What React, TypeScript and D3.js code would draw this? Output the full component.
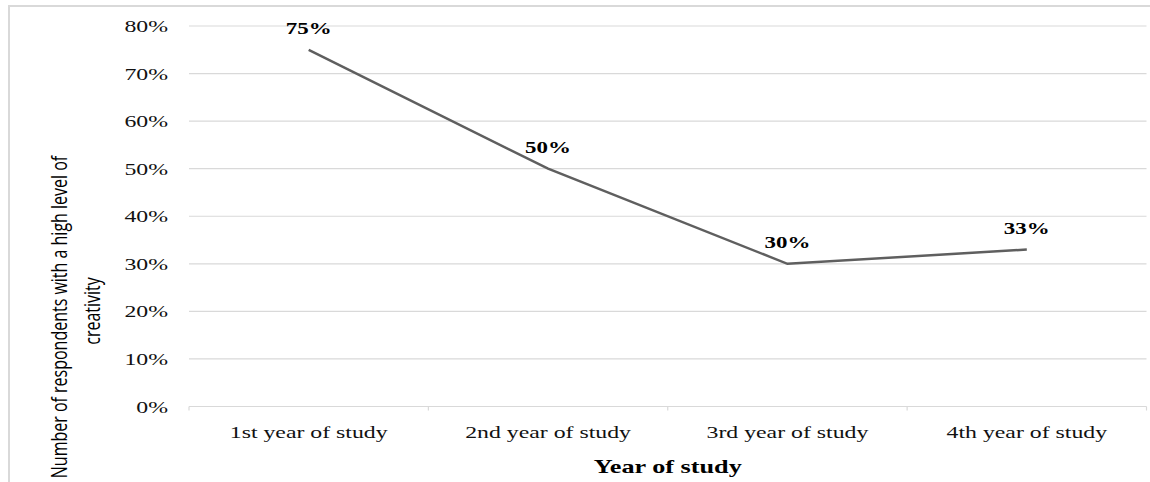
import React from "react";
import * as d3 from "d3";

const categories = ["1st year of study", "2nd year of study", "3rd year of study", "4th year of study"];
const values = [0.75, 0.5, 0.3, 0.33];
const yTicks = [0, 0.1, 0.2, 0.3, 0.4, 0.5, 0.6, 0.7, 0.8];
const xTitle = "Year of study";
const yTitleLines = ["Number of respondents with a high level of", "creativity"];

const W = 1150;
const H = 482;
const SX = 1.4; // horizontal stretch of the original rendering
const serif = "'Liberation Serif', 'Times New Roman', serif";
const sans = "'Open Sans', 'Noto Sans', sans-serif";

export default function App() {
  const x = d3.scaleBand<string>().domain(categories).range([189, 1146.5]);
  const y = d3.scaleLinear().domain([0, 0.8]).range([406.5, 26]);
  const fmt = d3.format(".0%");
  const pts = categories.map((c, i) => [x(c)! + x.bandwidth() / 2, y(values[i])] as [number, number]);
  const line = d3.line()(pts) || "";
  const bounds = [...categories.map((c) => x(c)!), x.range()[1]];

  return (
    <svg
      width={W}
      height={H}
      style={{ position: "absolute", left: 0, top: 0, background: "#fff" }}
    >
      {/* chart border */}
      <line x1={9} x2={9} y1={5} y2={H} stroke="#d9d9d9" strokeWidth={2} />
      <line x1={8} x2={W} y1={6} y2={6} stroke="#d9d9d9" strokeWidth={2} />

      {/* gridlines */}
      {yTicks.map((t) => (
        <line key={t} x1={x.range()[0]} x2={x.range()[1]} y1={y(t)} y2={y(t)} stroke="#d9d9d9" strokeWidth={1.2} />
      ))}
      {/* category ticks */}
      {bounds.map((b, i) => (
        <line key={i} x1={b} x2={b} y1={y(0)} y2={y(0) + 4} stroke="#d9d9d9" strokeWidth={1.2} />
      ))}

      {/* y tick labels */}
      {yTicks.map((t) => (
        <text
          key={t}
          transform={`translate(168,${y(t) + 6}) scale(${SX},1)`}
          textAnchor="end"
          fontFamily={serif}
          fontSize={17}
          fill="#111"
        >
          {fmt(t)}
        </text>
      ))}

      {/* x tick labels */}
      {categories.map((c) => (
        <text
          key={c}
          transform={`translate(${x(c)! + x.bandwidth() / 2},438) scale(${SX},1)`}
          textAnchor="middle"
          fontFamily={serif}
          fontSize={17}
          fill="#111"
        >
          {c}
        </text>
      ))}

      {/* x title */}
      <text
        transform={`translate(${(x.range()[0] + x.range()[1]) / 2},473) scale(${SX - 0.02},1)`}
        textAnchor="middle"
        fontFamily={serif}
        fontSize={19}
        fontWeight="bold"
        fill="#000"
      >
        {xTitle}
      </text>

      {/* y title */}
      <text
        transform={`translate(67,317) scale(${SX},1) rotate(-90)`}
        textAnchor="middle"
        fontFamily={sans}
        fontSize={16}
        fill="#000"
      >
        {yTitleLines[0]}
      </text>
      <text
        transform={`translate(100,311) scale(${SX},1) rotate(-90)`}
        textAnchor="middle"
        fontFamily={sans}
        fontSize={16}
        fill="#000"
      >
        {yTitleLines[1]}
      </text>

      {/* line */}
      <path d={line} fill="none" stroke="#5f5f5f" strokeWidth={2.5} />

      {/* data labels */}
      {pts.map((p, i) => (
        <text
          key={i}
          transform={`translate(${p[0]},${p[1] - 16}) scale(${SX - 0.05},1)`}
          textAnchor="middle"
          fontFamily={serif}
          fontSize={17}
          fontWeight="bold"
          fill="#000"
        >
          {fmt(values[i])}
        </text>
      ))}
    </svg>
  );
}
